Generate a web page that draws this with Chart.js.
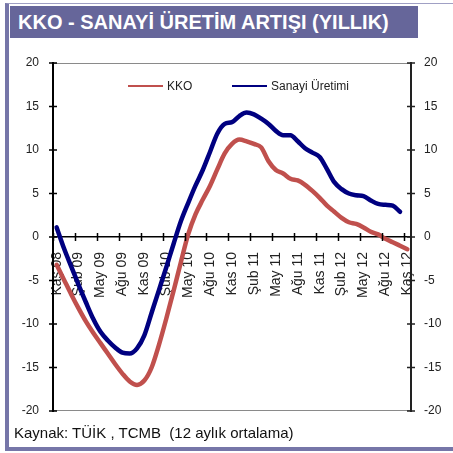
<!DOCTYPE html>
<html><head><meta charset="utf-8">
<script src="https://cdn.jsdelivr.net/npm/chart.js@4"></script>
<style>
html,body{margin:0;padding:0;background:#fff;}
body{width:453px;height:453px;position:relative;overflow:hidden;font-family:"Liberation Sans",Arial,sans-serif;}
#frame{position:absolute;left:5px;top:3px;width:448px;height:448px;border-left:4px solid #7676a8;border-bottom:4px solid #7676a8;border-top:1px solid #a0a0c4;box-sizing:border-box;}
#wrap{position:absolute;left:0;top:0;width:453px;height:453px;}
#title{position:absolute;left:10px;top:6px;width:408px;height:32px;background:#66669a;color:#fff;font-weight:bold;font-size:20px;line-height:33px;padding-left:8px;box-sizing:border-box;white-space:nowrap;}
.lg{position:absolute;top:79px;font-size:12px;color:#222;line-height:14px;white-space:nowrap;}
.lg span.ln{display:inline-block;width:35px;height:2px;vertical-align:middle;margin-right:4px;position:relative;top:-1px;}
#footer{position:absolute;left:14px;top:424px;font-size:15px;color:#111;white-space:pre;}
</style>
</head><body>
<div id="frame"></div>
<div id="wrap"><canvas id="c" width="453" height="453"></canvas></div>
<div id="title">KKO - SANAYİ ÜRETİM ARTIŞI (YILLIK)</div>
<div id="legend"></div>
<div id="footer">Kaynak: TÜİK , TCMB  (12 aylık ortalama)</div>
<script>
const months = [
 "Kas 08","Ara 08","Oca 09","Şub 09","Mar 09","Nis 09","May 09","Haz 09","Tem 09","Ağu 09","Eyl 09","Eki 09",
 "Kas 09","Ara 09","Oca 10","Şub 10","Mar 10","Nis 10","May 10","Haz 10","Tem 10","Ağu 10","Eyl 10","Eki 10",
 "Kas 10","Ara 10","Oca 11","Şub 11","Mar 11","Nis 11","May 11","Haz 11","Tem 11","Ağu 11","Eyl 11","Eki 11",
 "Kas 11","Ara 11","Oca 12","Şub 12","Mar 12","Nis 12","May 12","Haz 12","Tem 12","Ağu 12","Eyl 12","Eki 12",
 "Kas 12"];
const tickLabels = ["Kaş 08","Şub 09","May 09","Ağu 09","Kas 09","Şub 10","May 10","Ağu 10","Kas 10",
 "Şub 11","May 11","Ağu 11","Kas 11","Şub 12","May 12","Ağu 12","Kaş 12"];
const kko = [-3.2,-4.9,-6.6,-8.2,-9.7,-11.0,-12.2,-13.4,-14.6,-15.7,-16.6,-17.0,
 -16.5,-15.0,-12.4,-9.4,-6.2,-2.9,0.3,2.6,4.3,5.9,7.8,9.6,
 10.7,11.2,11.0,10.7,10.3,8.7,7.7,7.3,6.7,6.5,6.0,5.3,
 4.5,3.6,2.9,2.2,1.7,1.5,1.1,0.6,0.3,-0.2,-0.6,-1.0,
 -1.4];
const sanayi = [1.1,-1.3,-3.4,-5.5,-7.5,-9.4,-10.9,-11.9,-12.7,-13.3,-13.4,-12.8,
 -11.3,-8.7,-6.1,-3.5,-0.8,1.8,3.9,5.9,7.7,9.8,11.9,13.0,
 13.2,13.9,14.3,14.1,13.6,13.0,12.2,11.7,11.7,11.0,10.2,9.7,
 9.2,7.8,6.3,5.5,5.0,4.8,4.7,4.2,3.8,3.7,3.6,2.9,
 null];
const seriesNames = ["KKO","Sanayi Üretimi"];
const seriesColors = ["#c0504d","#000080"];
const yTicks = {min:-20, max:20, step:5};

// HTML legend from series names
const legendPos = [128, 232];
seriesNames.forEach((n,i)=>{
  const d = document.createElement('div');
  d.className='lg'; d.style.left = legendPos[i]+'px';
  d.innerHTML = '<span class="ln" style="background:'+seriesColors[i]+'"></span>'+n;
  document.getElementById('legend').appendChild(d);
});

const crossTicks = {
  id:'crossTicks',
  beforeDraw(chart){
    const {ctx, chartArea:a} = chart;
    ctx.save();
    ctx.strokeStyle = '#8a8a8a'; ctx.lineWidth = 1;
    ctx.beginPath();
    ctx.moveTo(a.left, a.top+0.5); ctx.lineTo(a.right, a.top+0.5);
    ctx.moveTo(a.left, a.bottom-0.5); ctx.lineTo(a.right, a.bottom-0.5);
    ctx.stroke();
    ctx.restore();
  },
  afterDraw(chart){
    const {ctx} = chart;
    const x = chart.scales.x, y = chart.scales.y, y2 = chart.scales.y2;
    ctx.save();
    ctx.strokeStyle = '#000'; ctx.lineWidth = 1.5;
    ctx.beginPath();
    y.ticks.forEach(t=>{ const p = y.getPixelForValue(t.value); ctx.moveTo(x.left-4,p); ctx.lineTo(x.left+4,p); });
    ctx.stroke();
    ctx.strokeStyle = '#222';
    ctx.beginPath();
    y2.ticks.forEach(t=>{ const p = y2.getPixelForValue(t.value); ctx.moveTo(x.right-4,p); ctx.lineTo(x.right+4,p); });
    ctx.stroke();
    const y0 = y.getPixelForValue(0);
    const half = (x.getPixelForValue(1)-x.getPixelForValue(0))/2;
    ctx.strokeStyle = '#000';
    ctx.beginPath();
    for(let i=0;i<months.length;i+=3){
      const p = Math.round(x.getPixelForValue(i)-half)+0.5;
      ctx.moveTo(p,y0-4); ctx.lineTo(p,y0+4);
    }
    ctx.stroke();
    ctx.restore();
  }
};

const font = {family:'"Liberation Sans", Arial, sans-serif', size:12};
new Chart(document.getElementById('c'), {
  type:'line',
  data:{
    labels: months,
    datasets:[
      {label:seriesNames[0], data:kko, borderColor:seriesColors[0], backgroundColor:seriesColors[0], borderWidth:4.5, pointRadius:0, cubicInterpolationMode:'monotone', borderCapStyle:'round', borderJoinStyle:'round', yAxisID:'y'},
      {label:seriesNames[1], data:sanayi, borderColor:seriesColors[1], backgroundColor:seriesColors[1], borderWidth:4.5, pointRadius:0, cubicInterpolationMode:'monotone', borderCapStyle:'round', borderJoinStyle:'round', yAxisID:'y'}
    ]
  },
  options:{
    responsive:false, animation:false, devicePixelRatio:1,
    layout:{padding:{top:63,bottom:42,left:0,right:0}},
    plugins:{legend:{display:false}, tooltip:{enabled:false}},
    scales:{
      x:{
        type:'category', position:{y:0}, offset:true,
        grid:{display:false, drawTicks:false},
        border:{display:true, color:'#000', width:1.5},
        ticks:{autoSkip:false, maxRotation:90, minRotation:90, padding:15, color:'#222',
          font:{family:font.family, size:14},
          callback:(v,i)=> i%3===0 ? tickLabels[i/3] : null}
      },
      y:{
        position:'left', min:yTicks.min, max:yTicks.max,
        grid:{display:false, drawTicks:false},
        border:{display:true, color:'#000', width:2},
        ticks:{stepSize:yTicks.step, padding:14, color:'#222', font},
        afterFit(s){ s.width = 53; }
      },
      y2:{
        position:'right', min:yTicks.min, max:yTicks.max,
        grid:{display:false, drawTicks:false},
        border:{display:true, color:'#222', width:2},
        ticks:{stepSize:yTicks.step, padding:13, color:'#222', font},
        afterFit(s){ s.width = 42; }
      }
    }
  },
  plugins:[crossTicks]
});
</script>
</body></html>
